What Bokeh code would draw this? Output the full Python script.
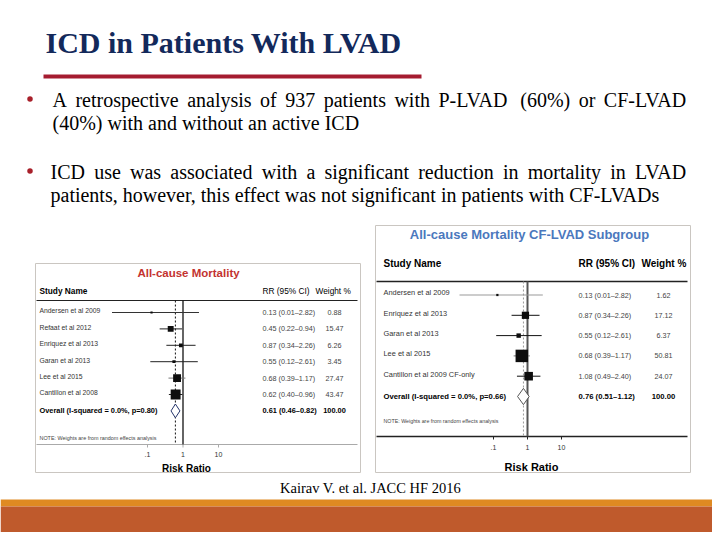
import math
from bokeh.plotting import figure
from bokeh.models import Range1d, LogScale
from bokeh.core.properties import value
from bokeh.embed import file_html
from bokeh.resources import INLINE

# ---------------- data ----------------
title_text = "ICD in Patients With LVAD"
bullet1 = ["A retrospective analysis of 937 patients with P-LVAD (60%) or CF-LVAD",
           "(40%) with and without an active ICD"]
bullet2 = ["ICD use was associated with a significant reduction in mortality in LVAD",
           "patients, however, this effect was not significant in patients with CF-LVADs"]
citation = "Kairav V. et al. JACC HF 2016"

left_title = "All-cause Mortality"
left_studies = ["Andersen et al 2009", "Refaat et al 2012", "Enriquez et al 2013",
                "Garan et al 2013", "Lee et al 2015", "Cantillon et al 2008"]
left_rr = [0.13, 0.45, 0.87, 0.55, 0.68, 0.62]
left_lo = [0.01, 0.22, 0.34, 0.12, 0.39, 0.40]
left_hi = [2.82, 0.94, 2.26, 2.61, 1.17, 0.96]
left_wt = [0.88, 15.47, 6.26, 3.45, 27.47, 43.47]
left_overall_label = "Overall (I-squared = 0.0%, p=0.80)"
left_overall = [0.61, 0.46, 0.82]

right_title = "All-cause Mortality CF-LVAD Subgroup"
right_studies = ["Andersen et al 2009", "Enriquez et al 2013", "Garan et al 2013",
                 "Lee et al 2015", "Cantillon et al 2009 CF-only"]
right_rr = [0.13, 0.87, 0.55, 0.68, 1.08]
right_lo = [0.01, 0.34, 0.12, 0.39, 0.49]
right_hi = [2.82, 2.26, 2.61, 1.17, 2.40]
right_wt = [1.62, 17.12, 6.37, 50.81, 24.07]
right_overall_label = "Overall (I-squared = 0.0%, p=0.66)"
right_overall = [0.76, 0.51, 1.12]

axis_ticks = [0.1, 1, 10]
axis_tick_labels = [".1", "1", "10"]
note_text = "NOTE: Weights are from random effects analysis"

# ---------------- figure ----------------
W, H = 712, 532
p = figure(width=W, height=H, x_range=Range1d(0, W), y_range=Range1d(H, 0),
           output_backend="svg", toolbar_location=None, min_border=0,
           x_axis_location=None, y_axis_location=None)
p.grid.visible = False
p.outline_line_color = None
p.background_fill_color = "white"
p.border_fill_color = "white"


def log_range(px_one, decade):
    a = -px_one / decade
    b = a + W / decade
    return Range1d(10 ** a, 10 ** b)


def row_range(px_row0, step):
    top = -px_row0 / step
    bottom = top + H / step
    return Range1d(bottom, top)


p.extra_x_ranges = {"lx": log_range(182.5, 35.5), "rx": log_range(527, 34)}
p.extra_x_scales = {"lx": LogScale(), "rx": LogScale()}
p.extra_y_ranges = {"ly": row_range(312, 16.4), "ry": row_range(294.5, 20.3)}


def txt(xs, ys, texts, size, color="#000000", bold=False, align="left",
        font="Liberation Sans", xr=None, yr=None):
    kw = {}
    if xr:
        kw["x_range_name"] = xr
    if yr:
        kw["y_range_name"] = yr
    p.text(x=list(xs), y=list(ys), text=list(texts), text_font=value(font),
           text_font_size=f"{size}px", text_color=color,
           text_font_style="bold" if bold else "normal",
           text_align=align, text_baseline="middle", **kw)


# Times / Liberation Serif advance widths (1/1000 em)
TW = dict(zip("abcdefghijklmnopqrstuvwxyz",
              [444, 500, 444, 500, 444, 333, 500, 500, 278, 278, 500, 278, 778,
               500, 500, 500, 500, 333, 389, 278, 500, 500, 722, 500, 500, 444]))
TW.update(dict(zip("ABCDEFGHIJKLMNOPQRSTUVWXYZ",
                   [722, 667, 667, 722, 611, 556, 722, 722, 333, 389, 722, 611, 889,
                    722, 722, 556, 722, 667, 556, 611, 722, 722, 944, 722, 722, 611])))
TW.update({c: 500 for c in "0123456789"})
TW.update({" ": 250, "(": 333, ")": 333, "%": 833, "-": 333, ",": 250, ".": 250})


def serif_line(line, x0, baseline, size, x1=None):
    y = baseline - 0.32 * size
    if x1 is None:
        txt([x0], [y], [line], size, font="Liberation Serif")
        return
    words = line.split()
    widths = [sum(TW.get(c, 500) for c in w) / 1000 * size for w in words]
    gap = (x1 - x0 - sum(widths)) / (len(words) - 1)
    xs, x = [], x0
    for w in widths:
        xs.append(x)
        x += w + gap
    txt(xs, [y] * len(words), words, size, font="Liberation Serif")


# ---------------- slide header ----------------
txt([45], [52 - 0.32 * 30], [title_text], 30, color="#13295b", bold=True,
    font="Liberation Serif")
p.segment(x0=[43], y0=[76], x1=[421], y1=[76], line_width=4, line_color="#a51c30")

body_size = 20
p.scatter(x=[29.5, 29.5], y=[98.5, 170.5], size=5.5, marker="circle",
          fill_color="#a8202a", line_color=None)
serif_line(bullet1[0], 52, 106, body_size, x1=690)
serif_line(bullet1[1], 52, 129, body_size)
serif_line(bullet2[0], 50, 178, body_size, x1=690)
serif_line(bullet2[1], 50, 201, body_size)

# ---------------- footer ----------------
txt([370], [487], [citation], 14.5, align="center", font="Liberation Serif")
p.quad(left=[0], right=[W], top=[499], bottom=[506], fill_color="#df8a22", line_color=None)
p.quad(left=[0], right=[W], top=[506], bottom=[H], fill_color="#bf5a2c", line_color=None)


# ---------------- forest plots ----------------
def forest(cfg):
    xr, yr = cfg["xr"], cfg["yr"]
    studies, rr, lo, hi, wt = cfg["studies"], cfg["rr"], cfg["lo"], cfg["hi"], cfg["wt"]
    n = len(studies)
    rows = list(range(n))
    bx0, by0, bx1, by1 = cfg["box"]
    p.quad(left=[bx0], right=[bx1], top=[by0], bottom=[by1], fill_color="white",
           line_color="#cac6c1", line_width=1)
    txt([cfg["title_x"]], [cfg["title_y"]], [cfg["title"]], cfg["title_size"],
        color=cfg["title_color"], bold=True, align="center")
    hs = cfg["head_size"]
    txt([cfg["lab_x"]], [cfg["head_y"]], ["Study Name"], hs, bold=True)
    txt([cfg["rr_x"]], [cfg["head_y"]], ["RR (95% CI)"], hs, bold=cfg["head_bold"])
    txt([cfg["wt_hx"]], [cfg["head_y"]], ["Weight %"], hs, bold=cfg["head_bold"])
    p.segment(x0=[bx0 + 1], y0=[cfg["hline"]], x1=[bx1 - 3], y1=[cfg["hline"]],
              line_color=cfg["hline_color"], line_width=cfg["hline_w"])
    p.segment(x0=[bx0 + 1], y0=[cfg["axline"]], x1=[bx1 - 3], y1=[cfg["axline"]],
              line_color=cfg["axline_color"], line_width=cfg["hline_w"])

    # reference lines
    p.segment(x0=[1], y0=[cfg["hline"]], x1=[1], y1=[cfg["axline"]], x_range_name=xr,
              line_color=cfg["ref_color"], line_width=cfg["ref_w"])
    ov_rr, ov_lo, ov_hi = cfg["overall"]
    p.segment(x0=[ov_rr], y0=[cfg["hline"]], x1=[ov_rr], y1=[cfg["axline"]], x_range_name=xr,
              line_color=cfg["dot_color"], line_width=1, line_dash="2 2")

    # CIs and squares
    p.segment(x0=lo, y0=rows, x1=hi, y1=rows, x_range_name=xr, y_range_name=yr,
              line_color=cfg["ci_colors"], line_width=1)
    sizes = [max(2.2, cfg["k"] * math.sqrt(w)) for w in wt]
    p.scatter(x=rr, y=rows, size=sizes, marker="square", fill_color="#0d0d0d",
              line_color=None, x_range_name=xr, y_range_name=yr)
    dh = cfg["dh"]
    p.patch(x=[ov_lo, ov_rr, ov_hi, ov_rr], y=[n, n - dh, n, n + dh], x_range_name=xr,
            y_range_name=yr, fill_color="white", line_color=cfg["dia_color"], line_width=1)

    # texts
    ls, vs = cfg["lab_size"], cfg["val_size"]
    txt([cfg["lab_x"]] * n, [r - 0.1 for r in rows], studies, ls, color="#333333", yr=yr)
    txt([cfg["rr_x"]] * n, rows, [f"{a:.2f} ({b:.2f}\u2013{c:.2f})" for a, b, c in zip(rr, lo, hi)],
        vs, color="#444444", yr=yr)
    txt([cfg["wt_x"]] * n, rows, [f"{w:.2f}" for w in wt], vs, color="#444444",
        align="center", yr=yr)
    txt([cfg["lab_x"]], [n], [cfg["overall_label"]], cfg["ov_size"], bold=True, yr=yr)
    txt([cfg["rr_x"]], [n], [f"{ov_rr:.2f} ({ov_lo:.2f}\u2013{ov_hi:.2f})"], cfg["ov_size"],
        bold=True, yr=yr)
    txt([cfg["wt_x"]], [n], ["100.00"], cfg["ov_size"], bold=True, align="center", yr=yr)
    txt([cfg["lab_x"]], [cfg["note_y"]], [note_text], cfg["note_size"], color="#444444")

    # axis ticks
    p.segment(x0=axis_ticks, y0=[cfg["axline"]] * 3, x1=axis_ticks,
              y1=[cfg["axline"] + 3] * 3, x_range_name=xr, line_color=cfg["axline_color"])
    txt(axis_ticks, [cfg["tick_y"]] * 3, axis_tick_labels, cfg["tick_size"], color="#333333",
        align="center", xr=xr)
    txt([cfg["rr_label_x"]], [cfg["rr_label_y"]], ["Risk Ratio"], cfg["rr_label_size"],
        bold=True, align="center")


forest(dict(xr="lx", yr="ly", studies=left_studies, rr=left_rr, lo=left_lo, hi=left_hi,
            wt=left_wt, overall=left_overall, overall_label=left_overall_label,
            box=(35, 263, 360, 472), title=left_title, title_x=188, title_y=272,
            title_size=11.5, title_color="#c33330", head_size=8.3, head_bold=False,
            head_y=290, lab_x=39, rr_x=262, wt_hx=315, wt_x=334, hline=300, hline_w=1,
            hline_color="#222222", axline=444, axline_color="#aaaaaa",
            ref_color="#111111", ref_w=1.3, dot_color="#111111",
            ci_colors=["#333333", "#222222", "#222222", "#222222", "#777777", "#222222"],
            k=1.5, dh=0.42, dia_color="#24346a", lab_size=6.8, val_size=7.2, ov_size=7.4,
            note_y=437, note_size=5.4, tick_y=454, tick_size=7, rr_label_x=186,
            rr_label_y=468, rr_label_size=10))

forest(dict(xr="rx", yr="ry", studies=right_studies, rr=right_rr, lo=right_lo, hi=right_hi,
            wt=right_wt, overall=right_overall, overall_label=right_overall_label,
            box=(375, 225, 690, 472), title=right_title, title_x=529, title_y=234,
            title_size=13, title_color="#4b78bd", head_size=10, head_bold=True,
            head_y=263, lab_x=383, rr_x=578, wt_hx=641, wt_x=663, hline=281, hline_w=1.3,
            hline_color="#222222", axline=436, axline_color="#222222",
            ref_color="#555555", ref_w=2, dot_color="#999999",
            ci_colors=["#999999", "#111111", "#111111", "#777777", "#111111"],
            k=1.75, dh=0.4, dia_color="#555555", lab_size=7.4, val_size=7.2, ov_size=7.7,
            note_y=420, note_size=5.3, tick_y=447, tick_size=7, rr_label_x=531,
            rr_label_y=466, rr_label_size=11))

open("out.html", "w").write(file_html(p, INLINE))
